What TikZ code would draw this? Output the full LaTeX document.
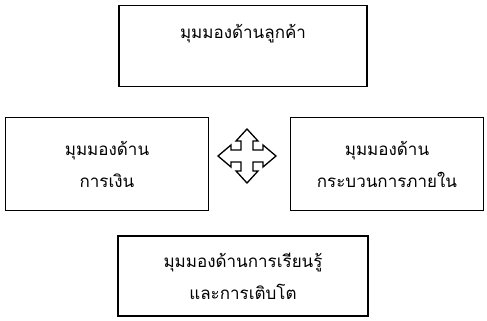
\documentclass[tikz,border=0pt]{standalone}
\usepackage{fontspec}
\newfontfamily\thaifont[Script=Thai]{Loma}
\begin{document}
\begin{tikzpicture}[x=1pt,y=-1pt,
  box/.style={draw=black,line width=1.6pt,inner sep=0pt},
  lbl/.style={font=\thaifont\fontsize{17}{32}\selectfont,align=center,inner sep=0pt}]
\useasboundingbox (0,0) rectangle (487,321);
\node[box,minimum width=248pt,minimum height=81pt] (top) at (243,46) {};
\node[lbl] (toptext) at (243,34) {มุมมองด้านลูกค้า};
\node[box,minimum width=203pt,minimum height=93pt] (left) at (107,164) {};
\node[lbl] (lefttext) at (107,164) {มุมมองด้าน\\การเงิน};
\node[box,minimum width=193pt,minimum height=93pt] (right) at (387,164) {};
\node[lbl] (righttext) at (387,164) {มุมมองด้าน\\กระบวนการภายใน};
\node[box,minimum width=250pt,minimum height=80pt] (bottom) at (243,276) {};
\node[lbl] (bottomtext) at (243,276) {มุมมองด้านการเรียนรู้\\และการเติบโต};
\coordinate (c) at (247,156);
\draw[line width=1.3pt,line join=miter,shift={(c)}]
  (-6,-6) -- (-6,-15) -- (-11,-15) -- (0,-27) -- (11,-15) -- (6,-15) -- (6,-6)
  -- (16,-6) -- (16,-11) -- (29,0) -- (16,11) -- (16,6) -- (6,6)
  -- (6,15) -- (11,15) -- (0,27) -- (-11,15) -- (-6,15) -- (-6,6)
  -- (-16,6) -- (-16,11) -- (-29,0) -- (-16,-11) -- (-16,-6) -- cycle;
\end{tikzpicture}
\end{document}
